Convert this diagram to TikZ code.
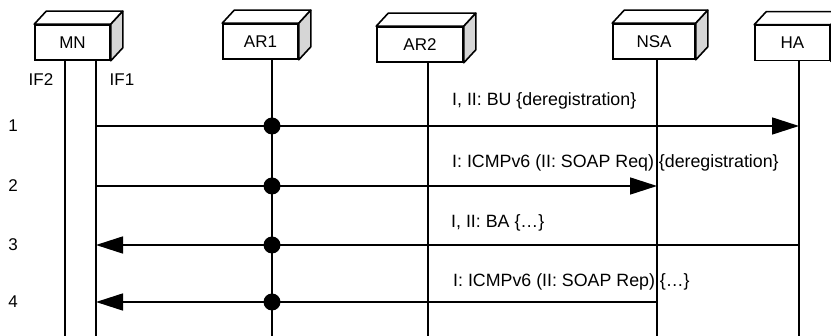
\documentclass[tikz,border=0pt]{standalone}
\usepackage{fontspec}
\setmainfont{Liberation Sans}
\usetikzlibrary{arrows.meta}

\begin{document}
\begin{tikzpicture}[x=1pt,y=-1pt]
        \tikzset{entity/.style={draw,fill=white,line width=1.6pt,minimum height=35pt,inner sep=0pt,
                font=\fontsize{17}{20}\selectfont},
            face/.style={draw,line width=1.6pt,line join=round},
            life/.style={line width=1.6pt},
            msg/.style={line width=1.6pt,-{Triangle[length=27pt,width=17pt]}},
            hop/.style={circle,fill,inner sep=0pt,minimum size=17pt},
            txt/.style={anchor=west,inner sep=0pt,font=\fontsize{17.8}{20}\selectfont},
            row/.style={inner sep=0pt,font=\fontsize{17}{20}\selectfont}}
        \useasboundingbox (0,0) rectangle (831,336);
        % entities
        \node[entity,minimum width=75pt] (mn) at (72.5,42.5) {MN};
        \node[entity,minimum width=75pt] (ar1) at (260.5,41.5) {AR1};
        \node[entity,minimum width=86pt] (ar2) at (420,44.5) {AR2};
        \node[entity,minimum width=82pt] (nsa) at (654,41.5) {NSA};
        \node[entity,minimum width=75pt] (ha) at (792.5,43) {HA};
        \foreach \n in {mn,ar1,ar2,nsa,ha}{
            \draw[face,fill=white] (\n.north west) -- ++(12,-13)
                -- ([shift={(12,-13)}]\n.north east) -- (\n.north east) -- cycle;
            \draw[face,fill=black!16] (\n.north east) -- ++(12,-13)
                -- ([shift={(12,-13)}]\n.south east) -- (\n.south east) -- cycle;
        }
        % lifelines
        \coordinate (if2) at (65,336);
        \coordinate (if1) at (96,336);
        \coordinate (lar1) at (272,336);
        \coordinate (lar2) at (428,336);
        \coordinate (lnsa) at (657,336);
        \coordinate (lha) at (799,336);
        \draw[life] (mn.south -| if2) -- (if2);
        \draw[life] (mn.south -| if1) -- (if1);
        \draw[life] (ar1.south -| lar1) -- (lar1);
        \draw[life] (ar2.south -| lar2) -- (lar2);
        \draw[life] (nsa.south -| lnsa) -- (lnsa);
        \draw[life] (ha.south -| lha) -- (lha);
        \node[row] (if2lbl) at (41,80) {IF2};
        \node[row] (if1lbl) at (122,80) {IF1};
        % steps
        \node[row] (n1) at (13,126) {1};
        \node[row] (n2) at (13,186) {2};
        \node[row] (n3) at (13,245) {3};
        \node[row] (n4) at (13,302) {4};
        \draw[msg] (if1 |- n1) -- (lha |- n1);
        \draw[msg] (if1 |- n2) -- (lnsa |- n2);
        \draw[msg] (lha |- n3) -- (if1 |- n3);
        \draw[msg] (lnsa |- n4) -- (if1 |- n4);
        \foreach \i in {1,...,4}
            \node[hop] (dot\i) at (lar1 |- n\i) {};
        \node[txt] (l1) at (452,101) {I, II: BU \{deregistration\}};
        \node[txt] (l2) at (452,163) {I: ICMPv6 (II: SOAP Req) \{deregistration\}};
        \node[txt] (l3) at (451,223) {I, II: BA \{…\}};
        \node[txt] (l4) at (453,282) {I: ICMPv6 (II: SOAP Rep) \{…\}};
    \end{tikzpicture}
\end{document}
